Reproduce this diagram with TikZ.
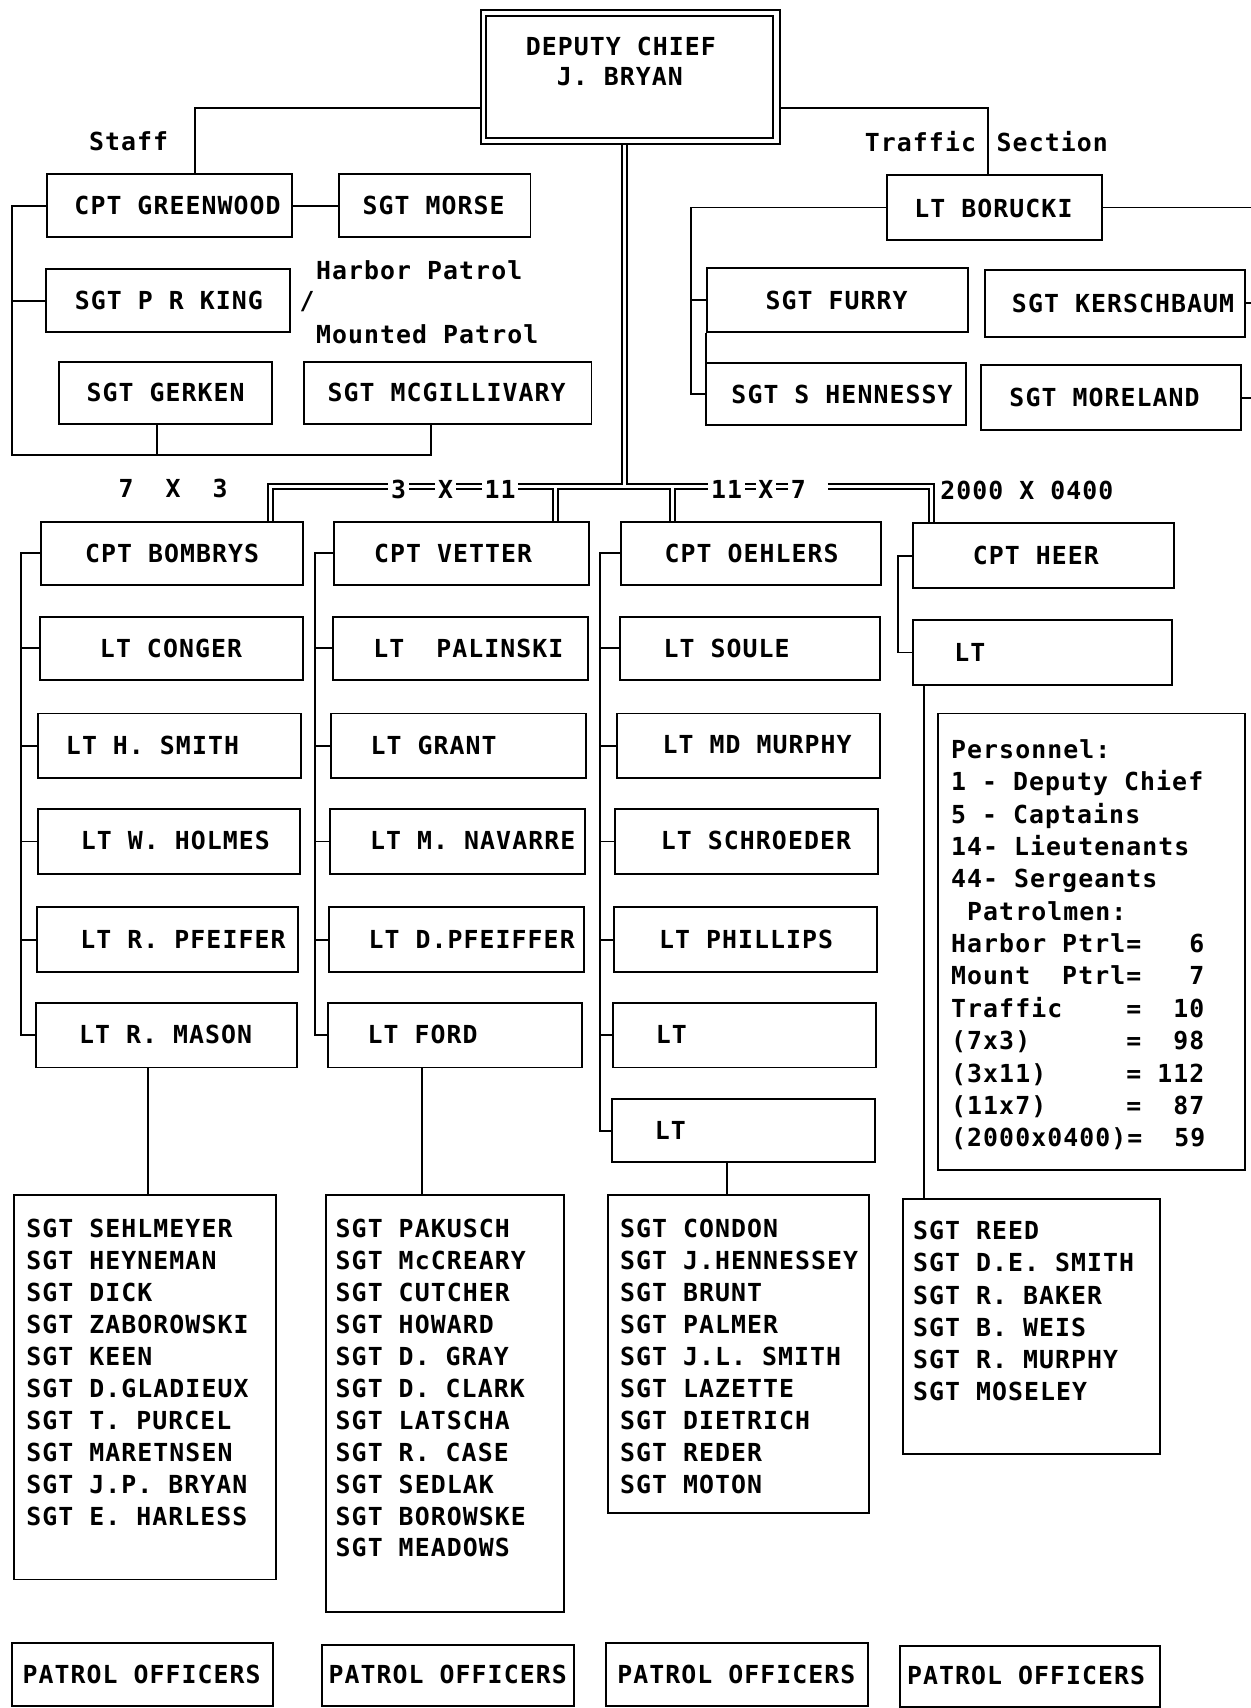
\documentclass[tikz,border=0pt]{standalone}
\usepackage{fontspec}
\newfontfamily\plotfont[LetterSpace=4.3,UprightFont=* Bold]{DejaVu Sans Mono}
\usetikzlibrary{backgrounds}
\newcommand\bx[5]{\node[bx,minimum width={#4-#2},minimum height={#5-#3}] (#1) at ({(#2+#4)/2},{(#3+#5)/2}) {};}
\newcommand\tx[4]{\node[lbl] (#1) at (#2,#3) {#4};}
\newcommand\txw[4]{\node[lbl,anchor=west] (#1) at (#2,#3) {#4};}
\newcommand\rows[5]{\foreach \t [count=\i from 0] in {#5} {\node[lbl,anchor=base west] (#1\i) at (#2,{#3+#4*\i}) {\t};}}
\begin{document}
\begin{tikzpicture}[x=1pt,y=-1pt,
  ln/.style={line width=1.8pt},
  bx/.style={draw,line width=1.8pt,rectangle,inner sep=0pt},
  lbl/.style={font=\plotfont\fontsize{22.8}{29.3}\selectfont,inner sep=0pt},
  busout/.style={line width=6.5pt,black},
  busin/.style={line width=2.6pt,white},
  buslbl/.style={lbl,fill=white,inner xsep=2.5pt,inner ysep=4pt}]
\useasboundingbox (0,0) rectangle (1148,1568);

% ---- Deputy chief
\bx{dep}{442}{9}{716}{132}
\bx{depin}{446}{15}{710}{127}
\tx{dept1}{570}{43}{DEPUTY CHIEF}
\tx{dept2}{569}{70}{J. BRYAN}

% ---- Staff
\bx{gw}{43}{160}{268}{218}      \tx{gwt}{163}{189}{CPT GREENWOOD}
\bx{morse}{311}{160}{487}{218}  \tx{morset}{398}{189}{SGT MORSE}
\bx{king}{42}{247}{266}{305}    \tx{kingt}{155}{276}{SGT P R KING}
\bx{gerk}{54}{332}{250}{389}    \tx{gerkt}{152}{360}{SGT GERKEN}
\bx{mcg}{279}{332}{543}{389}    \tx{mcgt}{410}{360}{SGT MCGILLIVARY}
\tx{staff}{118}{130}{Staff}
\txw{harbor}{290}{248}{Harbor Patrol}
\tx{slash}{282}{277}{/}
\txw{mounted}{290}{307}{Mounted Patrol}

\draw[ln] (dep.west |- 0,99) -- (179,99) -- (gw.north -| 179,0);
\draw[ln] (gw.east) -- (morse.west);
\draw[ln] (gw.west) -- (gw.west -| 11,0) -- (11,418) -- (396,418) -- (mcg.south -| 396,0);
\draw[ln] (king.west -| 11,0) -- (king.west);
\draw[ln] (gerk.south -| 144,0) -- (144,418);

% ---- Traffic
\bx{bor}{814}{161}{1012}{220}    \tx{bort}{912}{191}{LT BORUCKI}
\bx{furry}{649}{246}{889}{305}   \tx{furryt}{768}{276}{SGT FURRY}
\bx{shen}{648}{333}{887}{390}    \tx{shent}{773}{362}{SGT S HENNESSY}
\bx{kers}{904}{248}{1143}{309}   \tx{kerst}{1031}{279}{SGT KERSCHBAUM}
\bx{more}{901}{335}{1139}{395}   \tx{moret}{1014}{365}{SGT MORELAND}
\tx{traffic}{845}{130}{Traffic}
\tx{section}{966}{130}{Section}

\draw[ln] (dep.east |- 0,99) -- (907,99) -- (bor.north -| 907,0);
\draw[ln] (bor.west) -- (bor.west -| 634,0) -- (shen.west -| 634,0) -- (shen.west);
\draw[ln] (furry.west -| 634,0) -- (furry.west);
\draw[ln] (furry.south west) -- (furry.south west |- shen.north);
\draw[ln] (bor.east) -- (bor.east -| 1148,0);
\draw[ln] (kers.east) -- (kers.east -| 1148,0);
\draw[ln] (more.east) -- (more.east -| 1148,0);

% ---- Column 1
\bx{bomb}{38}{479}{278}{537}    \tx{bombt}{158}{508}{CPT BOMBRYS}
\bx{cong}{37}{566}{278}{624}    \tx{congt}{157}{595}{LT CONGER}
\bx{hsm}{35}{655}{276}{714}     \tx{hsmt}{140}{684}{LT H. SMITH}
\bx{holm}{35}{743}{275}{802}    \tx{holmt}{161}{772}{LT W. HOLMES}
\bx{rpf}{34}{833}{274}{892}     \tx{rpft}{168}{862}{LT R. PFEIFER}
\bx{mason}{33}{921}{273}{980}   \tx{masont}{152}{950}{LT R. MASON}
\draw[ln] (bomb.west) -- (bomb.west -| 19,0) -- (mason.west -| 19,0) -- (mason.west);
\foreach \b in {cong,hsm,holm,rpf} \draw[ln] (\b.west -| 19,0) -- (\b.west);

% ---- Column 2
\bx{vet}{307}{479}{541}{537}    \tx{vett}{416}{508}{CPT VETTER}
\bx{pal}{306}{566}{540}{624}    \tx{palt}{430}{595}{LT~~PALINSKI}
\bx{grant}{304}{655}{538}{714}  \tx{grantt}{398}{684}{LT GRANT}
\bx{nav}{303}{743}{537}{802}    \tx{navt}{434}{772}{LT M. NAVARRE}
\bx{dpf}{302}{833}{536}{892}    \tx{dpft}{433}{862}{LT D.PFEIFFER}
\bx{ford}{301}{921}{534}{980}   \tx{fordt}{388}{950}{LT FORD}
\draw[ln] (vet.west) -- (vet.west -| 289,0) -- (ford.west -| 289,0) -- (ford.west);
\foreach \b in {pal,grant,nav,dpf} \draw[ln] (\b.west -| 289,0) -- (\b.west);

% ---- Column 3
\bx{oeh}{570}{479}{809}{537}    \tx{oeht}{690}{508}{CPT OEHLERS}
\bx{soule}{569}{566}{808}{624}  \tx{soulet}{667}{595}{LT SOULE}
\bx{mdm}{566}{655}{808}{714}    \tx{mdmt}{695}{684}{LT MD MURPHY}
\bx{schr}{565}{743}{806}{802}   \tx{schrt}{694}{772}{LT SCHROEDER}
\bx{phil}{564}{833}{805}{892}   \tx{philt}{685}{862}{LT PHILLIPS}
\bx{lta}{563}{921}{804}{980}    \txw{ltat}{602}{950}{LT}
\bx{ltb}{562}{1009}{803}{1067}  \txw{ltbt}{601}{1038}{LT}
\draw[ln] (oeh.west) -- (oeh.west -| 551,0) -- (ltb.west -| 551,0) -- (ltb.west);
\foreach \b in {soule,mdm,schr,phil,lta} \draw[ln] (\b.west -| 551,0) -- (\b.west);

% ---- Column 4
\bx{heer}{838}{480}{1078}{540}  \tx{heert}{951}{510}{CPT HEER}
\bx{ltc}{838}{569}{1076}{629}   \txw{ltct}{876}{599}{LT}
\draw[ln] (heer.west) -- (heer.west -| 824,0) -- (ltc.west -| 824,0) -- (ltc.west);

% ---- Personnel
\bx{pers}{861}{655}{1143}{1074}
\rows{pl}{873}{696.3}{29.7}{{Personnel:},{1 - Deputy Chief},{5 - Captains},{14- Lieutenants},{44- Sergeants},{~Patrolmen:},{Harbor Ptrl=~~~6},{Mount~~Ptrl=~~~7},{Traffic~~~~=~~10},{(7x3)~~~~~~=~~98},{(3x11)~~~~~=~112},{(11x7)~~~~~=~~87},{(2000x0400)=~~59}}

% ---- Sergeant lists
\bx{sgA}{13}{1097}{253}{1450}
\bx{sgB}{299}{1097}{518}{1480}
\bx{sgC}{558}{1097}{798}{1389}
\bx{sgD}{829}{1101}{1065}{1335}
\rows{la}{24}{1136.3}{29.3}{SGT SEHLMEYER,SGT HEYNEMAN,SGT DICK,SGT ZABOROWSKI,SGT KEEN,SGT D.GLADIEUX,SGT T. PURCEL,SGT MARETNSEN,SGT J.P. BRYAN,SGT E. HARLESS}
\rows{lb}{308}{1136.3}{29.3}{SGT PAKUSCH,SGT McCREARY,SGT CUTCHER,SGT HOWARD,SGT D. GRAY,SGT D. CLARK,SGT LATSCHA,SGT R. CASE,SGT SEDLAK,SGT BOROWSKE,SGT MEADOWS}
\rows{lc}{569}{1136.3}{29.3}{SGT CONDON,SGT J.HENNESSEY,SGT BRUNT,SGT PALMER,SGT J.L. SMITH,SGT LAZETTE,SGT DIETRICH,SGT REDER,SGT MOTON}
\rows{ld}{838}{1138.3}{29.4}{SGT REED,SGT D.E. SMITH,SGT R. BAKER,SGT B. WEIS,SGT R. MURPHY,SGT MOSELEY}

\draw[ln] (mason.south -| 136,0) -- (sgA.north -| 136,0);
\draw[ln] (ford.south -| 387,0) -- (sgB.north -| 387,0);
\draw[ln] (ltb.south -| 667,0) -- (sgC.north -| 667,0);
\draw[ln] (ltc.south -| 848,0) -- (sgD.north -| 848,0);

% ---- Patrol officers
\bx{pA}{11}{1508}{251}{1566}   \tx{pAt}{130}{1537}{PATROL OFFICERS}
\bx{pB}{296}{1510}{527}{1566}  \tx{pBt}{411}{1537}{PATROL OFFICERS}
\bx{pC}{556}{1508}{797}{1566}  \tx{pCt}{676}{1537}{PATROL OFFICERS}
\bx{pD}{826}{1511}{1065}{1567} \tx{pDt}{942}{1538}{PATROL OFFICERS}

% ---- Double-line bus
\begin{pgfonlayer}{background}
\foreach \s in {busout,busin}{
  \draw[\s] (dep.south -| 573,0) -- (573,447);
  \draw[\s] (bomb.north -| 248,0) -- (248,447) -- (735,447);
  \draw[\s] (vet.north -| 510,0) -- (510,447);
  \draw[\s] (oeh.north -| 617,0) -- (617,447);
  \draw[\s] (760,447) -- (855,447) -- (heer.north -| 855,0);
}
\end{pgfonlayer}
\node[buslbl] (b3) at (366,449) {3};
\node[buslbl] (bx1) at (409,449) {X};
\node[buslbl] (b11) at (459,449) {11};
\node[buslbl] (c11) at (667,449) {11};
\node[buslbl] (cx) at (703,449) {X};
\node[buslbl] (c7) at (733,449) {7};
\tx{t73}{159}{448}{7~~X~~3}
\txw{t2000}{863}{450}{2000 X 0400}
\end{tikzpicture}
\end{document}
